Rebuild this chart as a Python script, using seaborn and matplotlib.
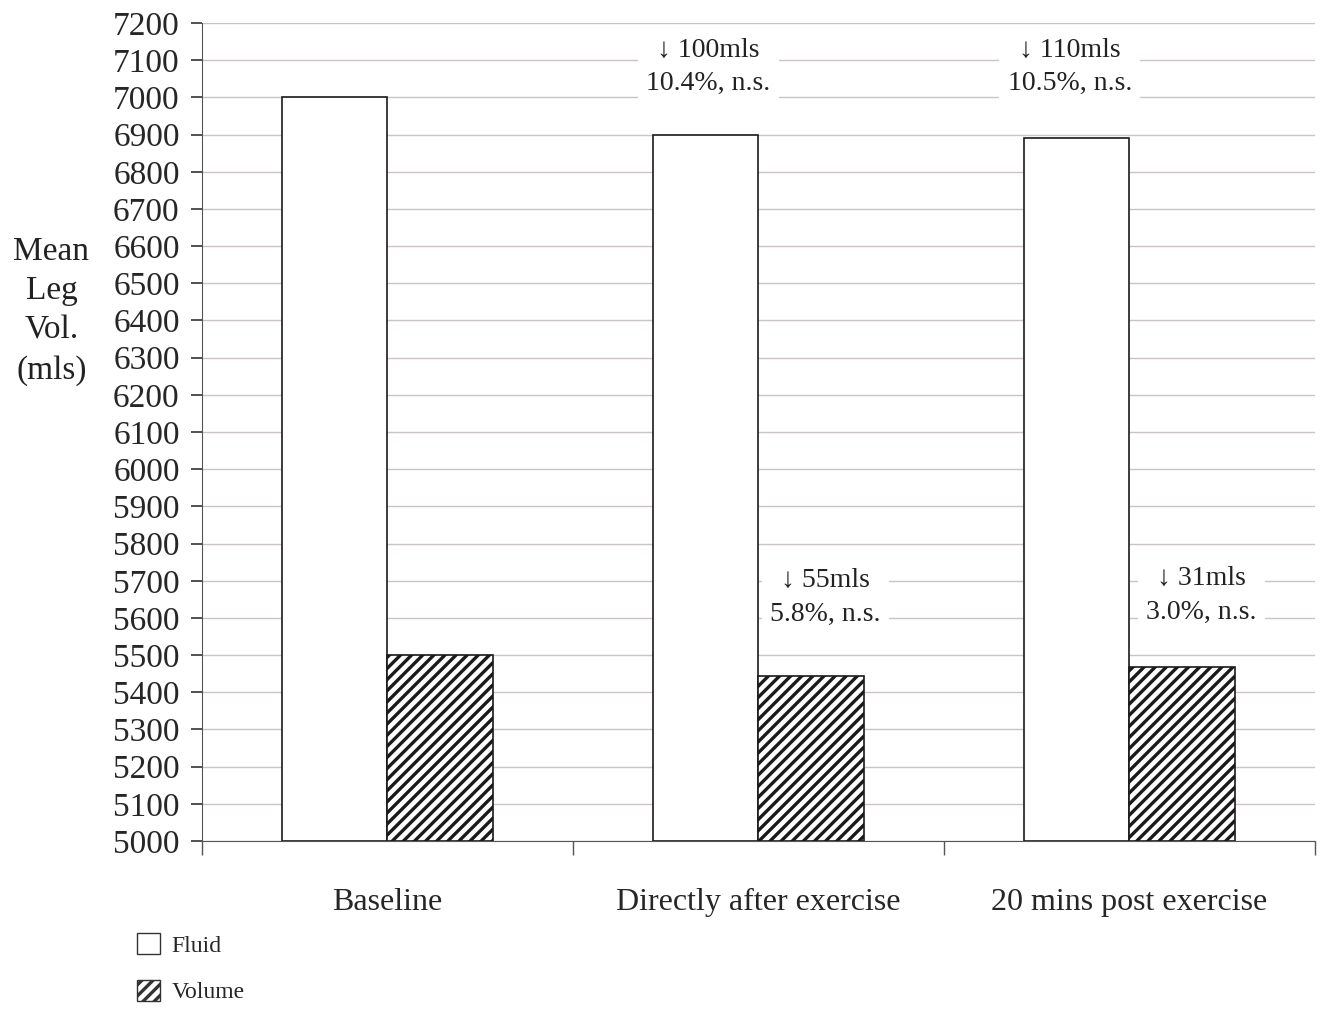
import matplotlib
matplotlib.use("Agg")
import matplotlib.pyplot as plt
import matplotlib.patches as mpatches
import pandas as pd
import seaborn as sns

''' DATA
'''
categories = ["Baseline", "Directly after exercise", "20 mins post exercise"]
series = ["Fluid", "Volume"]
fluid = [7000, 6900, 6890]
volume = [5500, 5445, 5469]
y_ticks = list(range(5000, 7201, 100))

# annotation texts: (category position, y, text)
notes_top = [(0.865, 7082, "\u2193 100mls\n10.4%, n.s."),
             (1.84, 7082, "\u2193 110mls\n10.5%, n.s.")]
notes_low = [(1.18, 5655, "\u2193 55mls\n5.8%, n.s."),
             (2.195, 5660, "\u2193 31mls\n3.0%, n.s.")]

sns.set_style("white")
plt.rcParams['font.family'] = ['Liberation Serif', 'DejaVu Serif']
plt.rcParams['hatch.linewidth'] = 2.4

df = pd.DataFrame({
    'cat': categories * 2,
    'series': [series[0]] * 3 + [series[1]] * 3,
    'val': fluid + volume,
})

fig = plt.figure(figsize=(13.2, 10.1), dpi=100)
ax = fig.add_axes([0.153, 0.1673, 0.843, 0.8099])

sns.barplot(data=df, x='cat', y='val', hue='series', palette=['white', 'white'],
            edgecolor='#1a1a1a', linewidth=1.2, width=0.57, ax=ax, legend=False,
            order=categories, hue_order=series)
# bars start at y=5000 (axis base)
for p in ax.patches:
    h = p.get_height()
    p.set_y(5000)
    p.set_height(h - 5000)
for p in ax.patches[3:6]:
    p.set_hatch('///')

ax.set_ylim(5000, 7200)
ax.set_xlim(-0.5, 2.5)
ax.set_yticks(y_ticks)
ax.set_yticklabels([str(t) for t in y_ticks], fontsize=24)
ax.yaxis.grid(True, color='#cbc3c5', linewidth=1)
ax.set_axisbelow(True)

ax.set_xticks([-0.5, 0.5, 1.5, 2.5])
ax.set_xticklabels([])
ax.set_xticks([0, 1, 2], minor=True)
ax.set_xticklabels(categories, minor=True, fontsize=23)
ax.tick_params(axis='x', which='minor', bottom=True, length=0, pad=34)
ax.tick_params(axis='x', which='major', bottom=True, length=10, width=1,
               color='#555555', direction='out')
ax.tick_params(axis='y', left=True, length=8, width=1.2, color='#333333',
               direction='out', pad=8)
ax.set_xlabel('')
ax.set_ylabel('')

for s in ['top', 'right']:
    ax.spines[s].set_visible(False)
ax.spines['left'].set_color('#555555')
ax.spines['bottom'].set_color('#555555')

for x, y, t in notes_top + notes_low:
    ax.text(x, y, t, ha='center', va='center', multialignment='center',
            fontsize=20, color='#222222', linespacing=1.45, zorder=5,
            bbox=dict(facecolor='white', edgecolor='none', pad=6))

fig.text(0.039, 0.692, "Mean\nLeg\nVol.\n(mls)", ha='center', va='center',
         fontsize=24, linespacing=1.38, color='#222222')

handles = [mpatches.Patch(facecolor='white', edgecolor='#333333', label='Fluid'),
           mpatches.Patch(facecolor='white', edgecolor='#333333', hatch='///', label='Volume')]
fig.legend(handles=handles, loc='upper left', bbox_to_anchor=(0.088, 0.097),
           frameon=False, fontsize=17, handlelength=0.95, handleheight=0.95,
           labelspacing=1.0, handletextpad=0.5)

fig.savefig('out.png', dpi=100)
